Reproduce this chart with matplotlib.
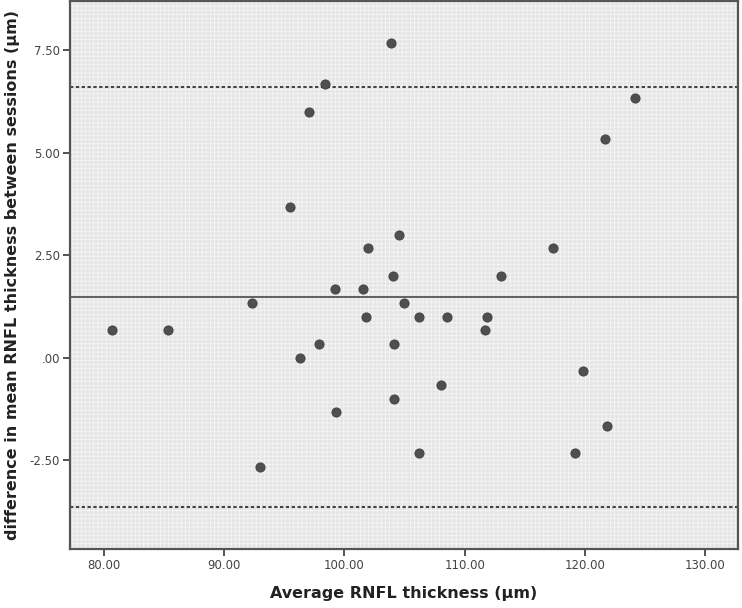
import matplotlib
matplotlib.use("Agg")
import matplotlib.pyplot as plt
from matplotlib.patches import Rectangle
from matplotlib.ticker import FuncFormatter

# average RNFL thickness (um) and difference between sessions (um)
avg_thickness = [80.66, 85.33, 92.33, 93.02, 95.51, 97.02, 98.35, 96.33, 97.85, 99.24,
                 99.32, 101.53, 101.81, 102.00, 103.86, 104.02, 104.15, 104.15, 104.54, 104.98,
                 106.20, 106.20, 108.52, 108.00, 111.84, 111.67, 113.00, 117.34, 119.16, 119.83,
                 121.65, 121.82, 124.14]
difference = [0.67, 0.67, 1.33, -2.67, 3.67, 6.00, 6.67, 0.00, 0.33, 1.67,
              -1.33, 1.67, 1.00, 2.67, 7.67, 2.00, 0.33, -1.00, 3.00, 1.33,
              1.00, -2.33, 1.00, -0.67, 1.00, 0.67, 2.00, 2.67, -2.33, -0.33,
              5.33, -1.67, 6.33]

mean_diff = 1.47
upper_loa = 6.61
lower_loa = -3.65

x_ticks = [80, 90, 100, 110, 120, 130]
y_ticks = [-2.5, 0, 2.5, 5.0, 7.5]

plt.rcParams['hatch.linewidth'] = 0.6

fig = plt.figure(figsize=(7.42, 6.08), dpi=100)
ax = fig.add_axes([0.0943, 0.097, 0.9003, 0.901])
ax.set_facecolor('#e5e5e5')
# SPSS-like fine pattern in the background
ax.add_patch(Rectangle((0, 0), 1, 1, transform=ax.transAxes, facecolor='none',
                       edgecolor='#f5f5f5', hatch='++++', linewidth=0, zorder=0))

ax.axhline(mean_diff, color='#555555', lw=1.3, zorder=2)
ax.axhline(upper_loa, color='#444444', lw=1.5, ls=(0, (1.6, 1.2)), zorder=2)
ax.axhline(lower_loa, color='#444444', lw=1.5, ls=(0, (1.6, 1.2)), zorder=2)

ax.scatter(avg_thickness, difference, s=44, color='#4f4f4f', edgecolors='#3f3f3f',
           linewidths=0.6, zorder=3)

ax.set_xlim(77.2, 132.7)
ax.set_ylim(-4.67, 8.7)
ax.set_xticks(x_ticks)
ax.set_yticks(y_ticks)


def spss_fmt(v, pos):
    s = '%.2f' % v
    if s.startswith('0.'):
        s = s[1:]
    elif s.startswith('-0.'):
        s = '-' + s[2:]
    return s


ax.xaxis.set_major_formatter(FuncFormatter(spss_fmt))
ax.yaxis.set_major_formatter(FuncFormatter(spss_fmt))
ax.tick_params(direction='out', length=5, width=1.3, color='#444444',
               labelsize=8.5, labelcolor='#444444', pad=2)

for sp in ax.spines.values():
    sp.set_color('#555555')
    sp.set_linewidth(1.6)

ax.set_xlabel('Average RNFL thickness (µm)', fontsize=11.5, fontweight='bold',
              color='#222222', labelpad=10)
ax.set_ylabel('difference in mean RNFL thickness between sessions (µm)', fontsize=11.5,
              fontweight='bold', color='#222222', labelpad=7)

fig.savefig('out.png', dpi=100)
